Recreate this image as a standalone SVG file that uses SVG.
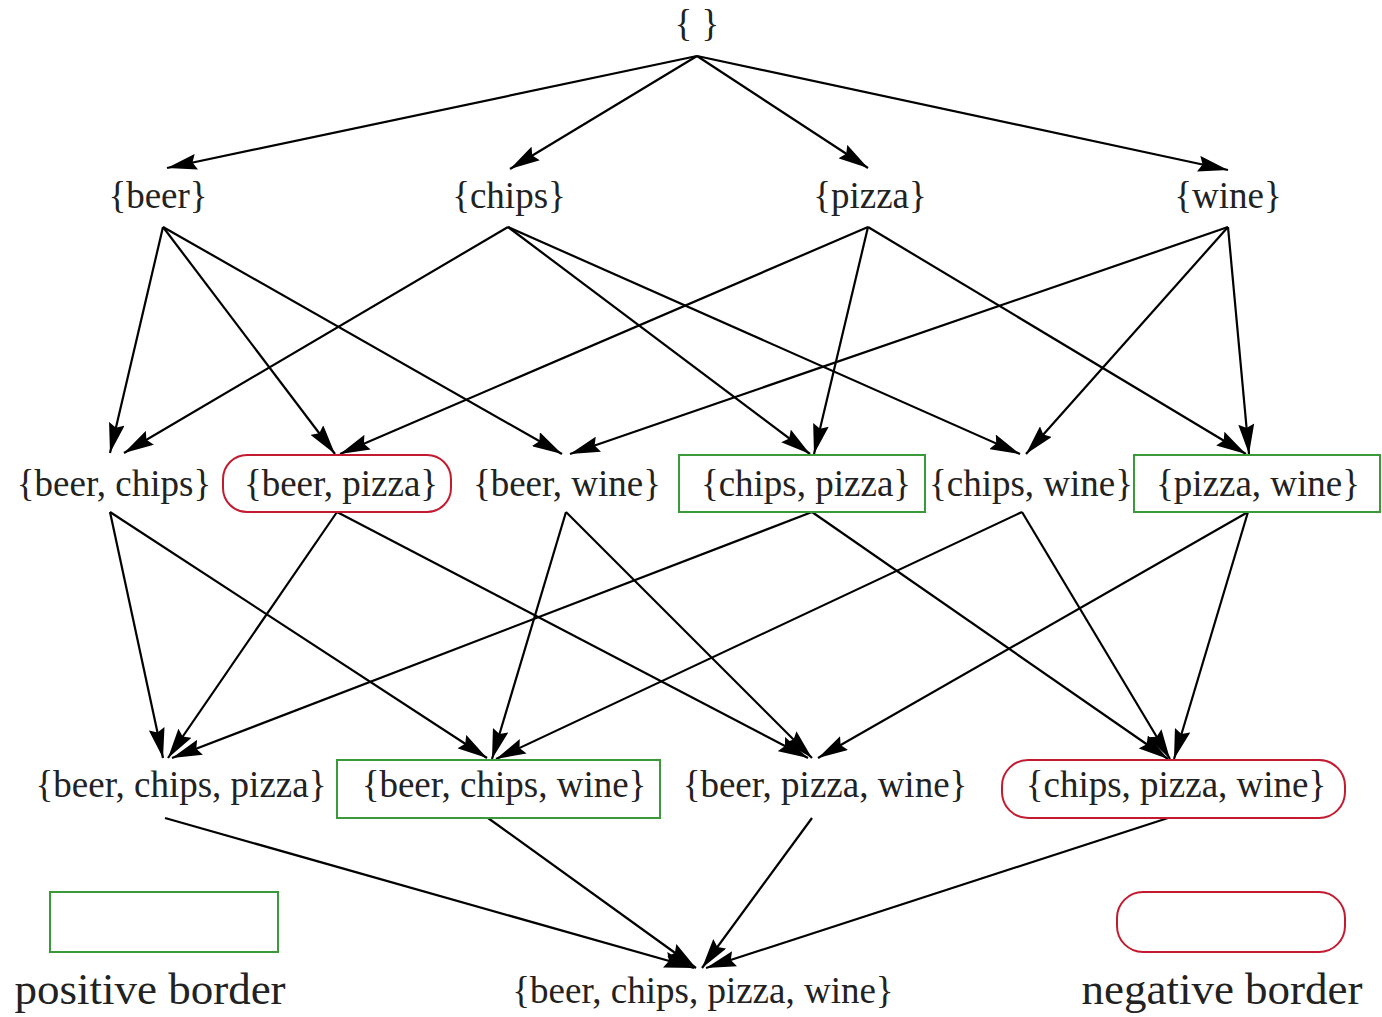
<svg xmlns="http://www.w3.org/2000/svg" width="1382" height="1017" viewBox="0 0 1382 1017">
<style>
text{font-family:"Liberation Serif","Times New Roman",serif;font-size:37px;fill:#222;text-anchor:middle}
.big{font-size:45px}
.pos{fill:none;stroke:#3a9a3a;stroke-width:2}
.neg{fill:none;stroke:#c41a30;stroke-width:2}
.e line{stroke:#000;stroke-width:2.2;marker-end:url(#ah)}
</style>
<defs>
<marker id="ah" markerUnits="userSpaceOnUse" viewBox="0 0 30 16" markerWidth="30" markerHeight="16" refX="30" refY="8" orient="auto">
<path d="M30,8 L0,0 L4,8 L0,16 Z" fill="#000"/>
</marker>
</defs>
<g class="e" id="connectors">
<line x1="697" y1="56" x2="167" y2="168"/>
<line x1="697" y1="56" x2="510" y2="169"/>
<line x1="697" y1="56" x2="868" y2="168"/>
<line x1="697" y1="56" x2="1228" y2="170"/>
<line x1="163" y1="227" x2="110" y2="453"/>
<line x1="163" y1="227" x2="335" y2="454"/>
<line x1="163" y1="227" x2="562" y2="454"/>
<line x1="508" y1="227" x2="124" y2="453"/>
<line x1="508" y1="227" x2="810" y2="454"/>
<line x1="508" y1="227" x2="1020" y2="454"/>
<line x1="868" y1="227" x2="340" y2="454"/>
<line x1="868" y1="227" x2="814" y2="454"/>
<line x1="868" y1="227" x2="1246" y2="454"/>
<line x1="1228" y1="227" x2="570" y2="454"/>
<line x1="1228" y1="227" x2="1026" y2="454"/>
<line x1="1228" y1="227" x2="1249" y2="454"/>
<line x1="110" y1="512" x2="163" y2="758"/>
<line x1="110" y1="512" x2="487" y2="758"/>
<line x1="337" y1="512" x2="168" y2="758"/>
<line x1="337" y1="512" x2="808" y2="758"/>
<line x1="566" y1="512" x2="492" y2="759"/>
<line x1="566" y1="512" x2="812" y2="758"/>
<line x1="812" y1="512" x2="172" y2="758"/>
<line x1="812" y1="512" x2="1168" y2="759"/>
<line x1="1022" y1="512" x2="496" y2="759"/>
<line x1="1022" y1="512" x2="1170" y2="759"/>
<line x1="1248" y1="512" x2="818" y2="758"/>
<line x1="1248" y1="512" x2="1174" y2="759"/>
<line x1="165" y1="818" x2="694" y2="968"/>
<line x1="488" y1="818" x2="696" y2="968"/>
<line x1="812" y1="818" x2="702" y2="968"/>
<line x1="1168" y1="818" x2="706" y2="968"/>
</g>
<g id="n-empty"><text x="697" y="36">{ }</text></g>
<g id="n-beer"><text x="158" y="208">{beer}</text></g>
<g id="n-chips"><text x="509" y="208">{chips}</text></g>
<g id="n-pizza"><text x="870" y="208">{pizza}</text></g>
<g id="n-wine"><text x="1228" y="208">{wine}</text></g>
<g id="n-beer-chips"><text x="114" y="496">{beer, chips}</text></g>
<g id="n-beer-pizza"><rect class="neg" x="223" y="455" width="228" height="57" rx="24"/><text x="341" y="496">{beer, pizza}</text></g>
<g id="n-beer-wine"><text x="567" y="496">{beer, wine}</text></g>
<g id="n-chips-pizza"><rect class="pos" x="679" y="455" width="246" height="57"/><text x="806" y="496">{chips, pizza}</text></g>
<g id="n-chips-wine"><text x="1031" y="496">{chips, wine}</text></g>
<g id="n-pizza-wine"><rect class="pos" x="1134" y="455" width="246" height="57"/><text x="1258" y="496">{pizza, wine}</text></g>
<g id="n-beer-chips-pizza"><text x="181" y="797">{beer, chips, pizza}</text></g>
<g id="n-beer-chips-wine"><rect class="pos" x="337" y="760" width="323" height="58"/><text x="504" y="797">{beer, chips, wine}</text></g>
<g id="n-beer-pizza-wine"><text x="825" y="797">{beer, pizza, wine}</text></g>
<g id="n-chips-pizza-wine"><rect class="neg" x="1002" y="760" width="343" height="58" rx="26"/><text x="1176" y="797">{chips, pizza, wine}</text></g>
<g id="n-all"><text x="703" y="1003">{beer, chips, pizza, wine}</text></g>
<g id="legend-pos"><rect class="pos" x="50" y="892" width="228" height="60"/><text class="big" x="150" y="1004">positive border</text></g>
<g id="legend-neg"><rect class="neg" x="1117" y="892" width="228" height="60" rx="26"/><text class="big" x="1222" y="1004">negative border</text></g>
</svg>
